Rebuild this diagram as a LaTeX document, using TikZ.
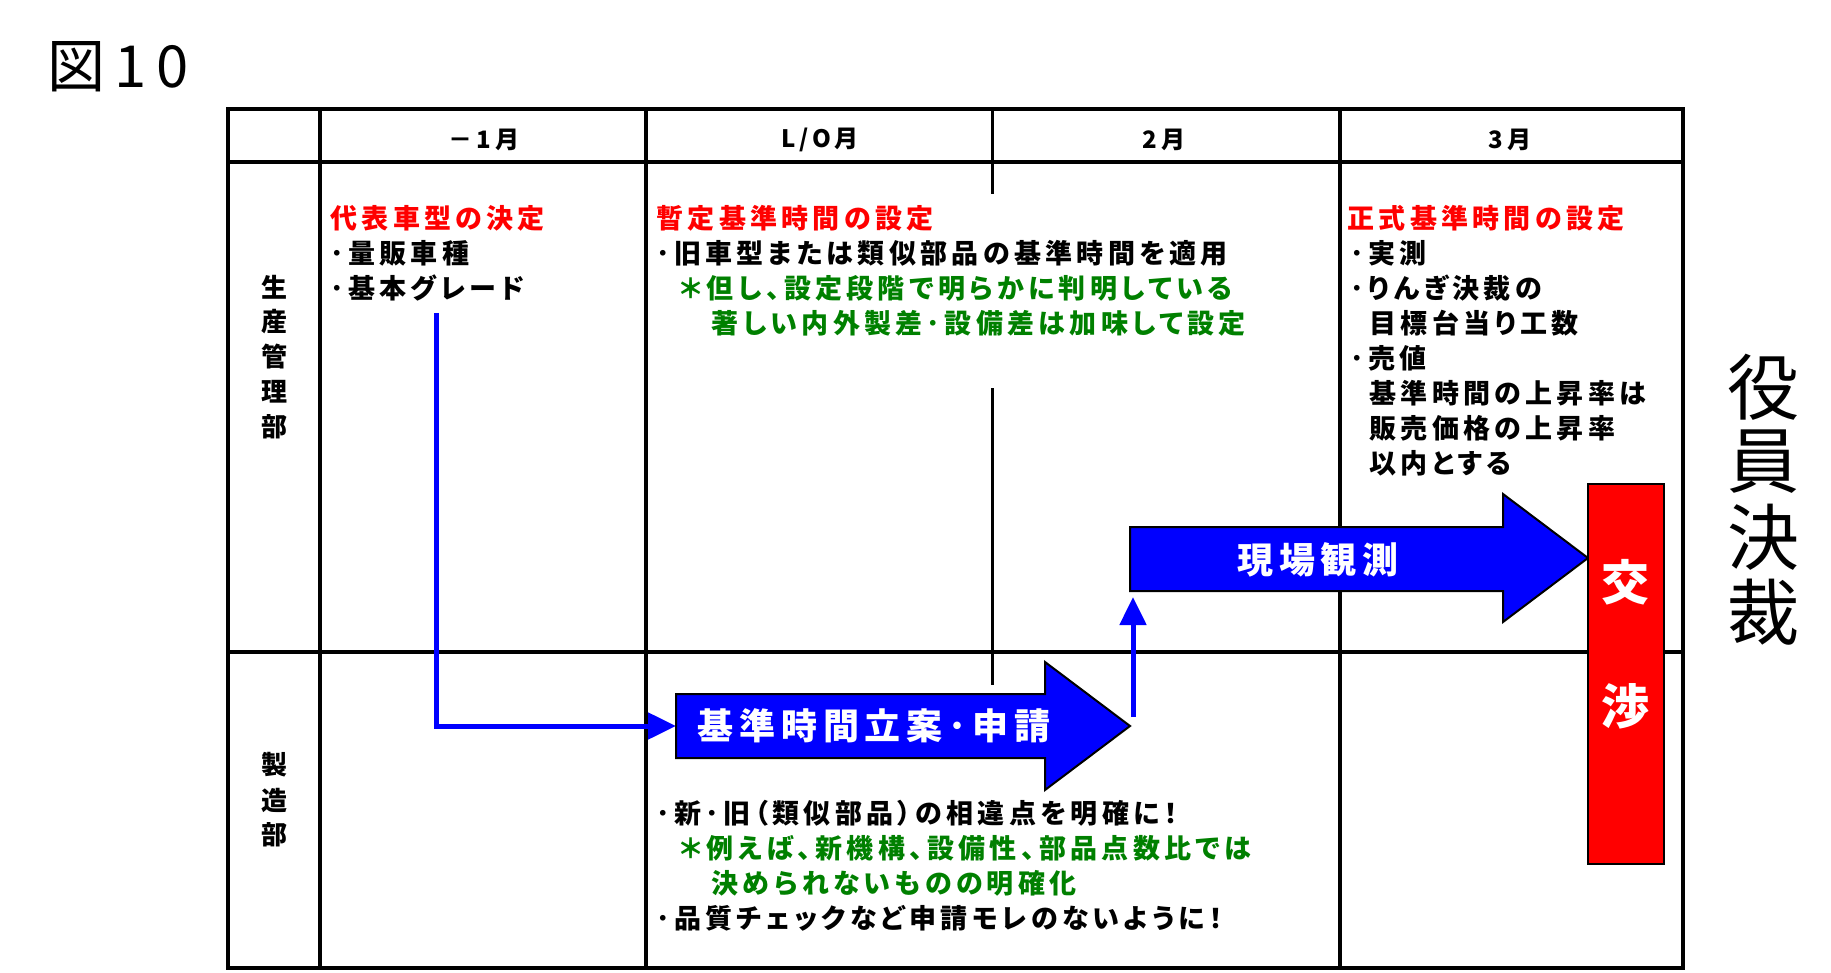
\documentclass[tikz,border=0pt]{standalone}
\usepackage{fontspec}
\setmainfont[LetterSpace=16,RawFeature=+palt]{Noto Sans CJK JP}
\newfontfamily\jpwide{Noto Sans CJK JP}
\usetikzlibrary{arrows.meta}
\definecolor{darkgreen}{RGB}{0,128,0}

\begin{document}
\begin{tikzpicture}[x=0.5pt,y=-0.5pt,
    txt/.style={inner sep=0pt,font=\fontsize{13.5pt}{16pt}\selectfont\bfseries},
    head/.style={inner sep=0pt,font=\fontsize{12pt}{14pt}\selectfont\bfseries},
    dept/.style={inner sep=0pt,font=\fontsize{13pt}{15pt}\selectfont\bfseries},
    bigtxt/.style={inner sep=0pt,text=white,font=\fontsize{18pt}{20pt}\selectfont\bfseries},
    grid/.style={line width=2.25pt},
    conn/.style={blue,line width=2.5pt,-{Triangle[length=14pt,width=13pt]}},
    bigarrow/.style={fill=blue,draw=black,line width=1pt}]
            \useasboundingbox (0,0) rectangle (1831,973);
            \node[inner sep=0pt,font=\fontsize{29pt}{32pt}\selectfont] (title) at (47,67)[right]{図10};
            % table
            \draw[grid] (228,109) rectangle (1683,968);
            \draw[grid] (228,162)--(1683,162);
            \draw[grid] (228,652)--(1683,652);
            \foreach \x in {320,646,1340}{
                \draw[grid] (\x,109)--(\x,968);
            }
            \draw[line width=1.5pt] (992,109)--(992,194);
            \draw[line width=1.5pt] (992,388)--(992,685);
            \node[head] (h1) at (484,140){－1月};
            \node[head] (h2) at (820,140){L/O月};
            \node[head] (h3) at (1164,140){2月};
            \node[head] (h4) at (1510,140){3月};
            \foreach \c [count=\i] in {生,産,管,理,部}{
                \node[dept] (p\i) at (274.5,252+35*\i){\c};
            }
            \foreach \c [count=\i] in {製,造,部}{
                \node[dept] (q\i) at (274.5,730+35*\i){\c};
            }
            % texts
            \foreach \t [count=\i] in {\textcolor{red}{代表車型の決定},･量販車種,･基本グレード}{
                \node[txt] (a\i) at (330,183+35*\i)[right]{\t};
            }
            \foreach \x/\t [count=\i] in {656/\textcolor{red}{暫定基準時間の設定},656/･旧車型または類似部品の基準時間を適用,680/\textcolor{darkgreen}{＊但し、設定段階で明らかに判明している},711/\textcolor{darkgreen}{著しい内外製差･設備差は加味して設定}}{
                \node[txt] (z\i) at (\x,183+35*\i)[right]{\t};
            }
            \foreach \x/\t [count=\i] in {1347/\textcolor{red}{正式基準時間の設定},1350/･実測,1350/･りんぎ決裁の,1369/目標台当り工数,1350/･売値,1369/基準時間の上昇率は,1369/販売価格の上昇率,1369/以内とする}{
                \node[txt] (s\i) at (\x,183+35*\i)[right]{\t};
            }
            \foreach \x/\t [count=\i] in {656/･新･旧（類似部品）の相違点を明確に！,680/\textcolor{darkgreen}{＊例えば、新機構、設備性、部品点数比では},711/\textcolor{darkgreen}{決められないものの明確化},656/･品質チェックなど申請モレのないように！}{
                \node[txt] (m\i) at (\x,778+35*\i)[right]{\t};
            }
            \foreach \c [count=\i] in {役,員,決,裁}{
                \node[inner sep=0pt,font=\jpwide\fontsize{36pt}{40pt}\selectfont] (y\i) at (1763,312+75*\i){\c};
            }
            % connectors
            \coordinate (c0) at (436.5,313);
            \coordinate (tail) at (676,726);
            \draw[conn] (c0) |- (tail);
            \coordinate (u0) at (1133,717);
            \coordinate (u1) at (1133,597);
            \draw[conn] (u0)--(u1);
            % big arrows
            \draw[bigarrow] (676,694)--(1045,694)--(1045,662)--(1130,726)--(1045,790)--(1045,758)--(676,758)--cycle;
            \node[bigtxt] (plan) at (874,726){基準時間立案･申請};
            \draw[bigarrow] (1130,527)--(1503,527)--(1503,494)--(1588,558)--(1503,622)--(1503,591)--(1130,591)--cycle;
            \node[bigtxt] (obs) at (1318,560){現場観測};
            \draw[fill=red,line width=1.3pt] (1588,484) rectangle (1664,864);
            \node[inner sep=0pt,text=white,font=\fontsize{24pt}{26pt}\selectfont\bfseries] (k1) at (1625,582){交};
            \node[inner sep=0pt,text=white,font=\fontsize{24pt}{26pt}\selectfont\bfseries] (k2) at (1625,706){渉};
        \end{tikzpicture}
\end{document}
